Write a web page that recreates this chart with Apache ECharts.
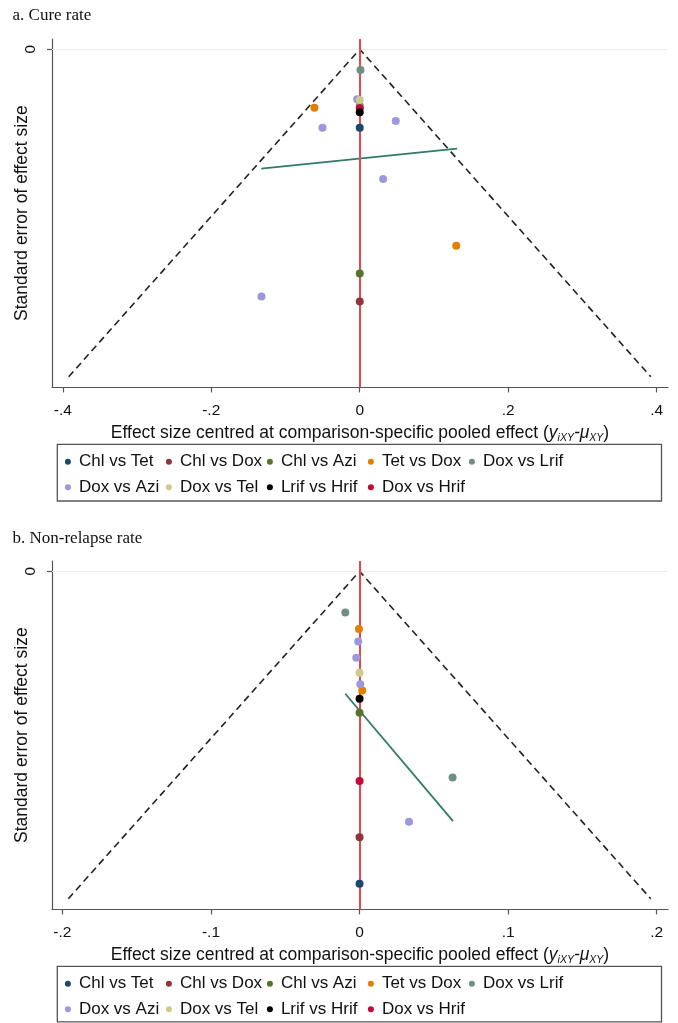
<!DOCTYPE html>
<html>
<head>
<meta charset="utf-8">
<script src="https://cdn.jsdelivr.net/npm/echarts@6/dist/echarts.min.js"></script>
<style>
  html, body { margin: 0; padding: 0; background: #fff; }
  #chart { width: 678px; height: 1023px; }
</style>
</head>
<body>
<div id="chart"></div>
<script>
// Comparisons shown in both panels, in legend order
const comparisons = ['Chl vs Tet', 'Chl vs Dox', 'Chl vs Azi', 'Tet vs Dox', 'Dox vs Lrif',
                     'Dox vs Azi', 'Dox vs Tel', 'Lrif vs Hrif', 'Dox vs Hrif'];
const comparisonColors = ['#1a476f', '#90353b', '#55752f', '#e37e00', '#6f8f82',
                          '#9d97dc', '#d0c98c', '#000000', '#c8063a'];

// a. Cure rate — [centred effect size, standard error]
const cureChlTet  = [[0, 0.0479]];
const cureChlDox  = [[0, 0.154]];
const cureChlAzi  = [[0, 0.137]];
const cureTetDox  = [[-0.061, 0.0357], [0.130, 0.120]];
const cureDoxLrif = [[0.001, 0.0126], [0, 0.0345]];
const cureDoxAzi  = [[-0.0035, 0.0305], [-0.0502, 0.0479], [0.0485, 0.0438], [0.0315, 0.0792], [-0.1323, 0.151]];
const cureDoxTel  = [[0, 0.031]];
const cureLrifHrif = [[0, 0.0385]];
const cureDoxHrif = [[0, 0.036]];
const cureFit = [[-0.1327, 0.0729], [0.1311, 0.0607]];
const cureMaxSE = 0.2;
const cureTicks = [-0.4, -0.2, 0, 0.2, 0.4];

// b. Non-relapse rate — [centred effect size, standard error]
const relChlTet  = [[0, 0.0954]];
const relChlDox  = [[0, 0.0812]];
const relChlAzi  = [[0, 0.0432]];
const relTetDox  = [[-0.0004, 0.0176], [0.0018, 0.0364]];
const relDoxLrif = [[-0.0096, 0.0126], [0.0626, 0.063]];
const relDoxAzi  = [[-0.0009, 0.0214], [-0.0022, 0.0264], [0.0005, 0.0345], [0.0333, 0.0765]];
const relDoxTel  = [[0, 0.031]];
const relLrifHrif = [[0, 0.0389]];
const relDoxHrif = [[0, 0.064]];
const relFit = [[-0.0096, 0.0374], [0.0629, 0.0763]];
const relMaxSE = 0.1;
const relTicks = [-0.2, -0.1, 0, 0.1, 0.2];

const seTicks = [0];

const curePoints = [cureChlTet, cureChlDox, cureChlAzi, cureTetDox, cureDoxLrif, cureDoxAzi, cureDoxTel, cureLrifHrif, cureDoxHrif];
const relPoints  = [relChlTet, relChlDox, relChlAzi, relTetDox, relDoxLrif, relDoxAzi, relDoxTel, relLrifHrif, relDoxHrif];

const SANS = '"Liberation Sans", Arial, Helvetica, sans-serif';
const SERIF = '"Liberation Serif", "Times New Roman", serif';
const AXIS_COLOR = '#555';

// Stata-style number labels: -.4, -.2, 0, .2, .4
function stataNum(v) {
  if (Math.abs(v) < 1e-12) return '0';
  const s = String(Math.abs(v)).replace(/^0/, '');
  return (v < 0 ? '-' : '') + s;
}

const xName = 'Effect size centred at comparison-specific pooled effect ({it|y}{sub|iXY}{it|-μ}{sub|XY})';
const xNameStyle = {
  fontFamily: SANS, fontSize: 17.5, color: '#111', lineHeight: 21,
  rich: {
    it: { fontFamily: SANS, fontSize: 17.5, fontStyle: 'italic', color: '#111', lineHeight: 21 },
    sub: { fontFamily: SANS, fontSize: 10.5, fontStyle: 'italic', color: '#111', lineHeight: 10, verticalAlign: 'bottom' }
  }
};

function xAxisFor(gridIndex, range, ticks) {
  return {
    gridIndex, type: 'value', min: -range[0], max: range[1],
    axisLine: { show: true, onZero: false, lineStyle: { color: AXIS_COLOR, width: 1.2 } },
    axisTick: { show: true, customValues: ticks, length: 5, lineStyle: { color: AXIS_COLOR, width: 1.2 } },
    axisLabel: { customValues: ticks, formatter: stataNum, margin: 15, fontFamily: SANS, fontSize: 15.5, color: '#111' },
    splitLine: { show: false },
    name: xName, nameLocation: 'middle', nameGap: 35, nameMoveOverlap: false, nameTextStyle: xNameStyle
  };
}

function yAxisFor(gridIndex, min, max) {
  return {
    gridIndex, type: 'value', inverse: true, min, max,
    axisLine: { show: true, onZero: false, lineStyle: { color: AXIS_COLOR, width: 1.2 } },
    axisTick: { show: true, customValues: seTicks, length: 5, lineStyle: { color: AXIS_COLOR, width: 1.2 } },
    axisLabel: { customValues: seTicks, formatter: stataNum, rotate: 90, margin: 13, fontFamily: SANS, fontSize: 15.5, color: '#111' },
    splitLine: { show: false },
    name: 'Standard error of effect size', nameLocation: 'middle', nameGap: 21, nameMoveOverlap: false,
    nameTextStyle: { fontFamily: SANS, fontSize: 17.5, color: '#111' }
  };
}

function panelSeries(idx, points, fit, maxSE) {
  const out = [];
  // pseudo 95% confidence limits of the funnel, with the zero grid line and the null-effect line
  out.push({
    type: 'line', xAxisIndex: idx, yAxisIndex: idx, silent: true, z: 3,
    data: [[-1.96 * maxSE, maxSE], [0, 0], [1.96 * maxSE, maxSE]],
    symbol: 'none', lineStyle: { color: '#222', width: 1.6, type: [7, 4.5] },
    markLine: {
      silent: true, symbol: 'none', label: { show: false }, animation: false,
      data: [
        { yAxis: 0, lineStyle: { color: '#ececec', width: 1, type: 'solid' } },
        { xAxis: 0, lineStyle: { color: '#e4474d', width: 2, type: 'solid' } }
      ]
    }
  });
  // fitted line
  out.push({
    type: 'line', xAxisIndex: idx, yAxisIndex: idx, silent: true, z: 4,
    data: fit, symbol: 'none', lineStyle: { color: '#2f7b69', width: 1.8 }
  });
  comparisons.forEach((name, i) => {
    out.push({
      name, type: 'scatter', xAxisIndex: idx, yAxisIndex: idx,
      data: points[i], symbol: 'circle', symbolSize: 8,
      z: name === 'Lrif vs Hrif' ? 7 : 5,
      itemStyle: { color: comparisonColors[i], opacity: 1 }
    });
  });
  return out;
}

function legendFor(top) {
  return {
    data: comparisons, left: 64.9, top, width: 520, orient: 'horizontal',
    itemWidth: 6, itemHeight: 6, itemGap: 2, icon: 'circle', padding: 0,
    selectedMode: false,
    textStyle: { fontFamily: SANS, fontSize: 17, color: '#111', width: 85, lineHeight: 23.6, padding: [0, 0, 0, 3] }
  };
}

const titleStyle = { fontFamily: SERIF, fontSize: 17, fontWeight: 'normal', color: '#111' };

const option = {
  backgroundColor: '#fff',
  animation: false,
  color: comparisonColors,
  title: [
    { text: 'a. Cure rate', left: 12.5, top: 7, padding: 0, textStyle: titleStyle },
    { text: 'b. Non-relapse rate', left: 12.5, top: 530, padding: 0, textStyle: titleStyle }
  ],
  grid: [
    { left: 52, right: 10, top: 39, height: 348.4, outerBoundsMode: 'none', containLabel: false },
    { left: 52, right: 10, top: 561, height: 348.4, outerBoundsMode: 'none', containLabel: false }
  ],
  xAxis: [xAxisFor(0, [0.4145, 0.4152], cureTicks), xAxisFor(1, [0.207, 0.2076], relTicks)],
  yAxis: [yAxisFor(0, -0.0063, 0.2065), yAxisFor(1, -0.00315, 0.10325)],
  legend: [legendFor(449.9), legendFor(971.9)],
  graphic: [
    { type: 'rect', silent: true, shape: { x: 57.3, y: 444.3, width: 604.2, height: 56.7 },
      style: { fill: 'none', stroke: '#555', lineWidth: 1.3 } },
    { type: 'rect', silent: true, shape: { x: 57.3, y: 966.3, width: 604.2, height: 55.5 },
      style: { fill: 'none', stroke: '#555', lineWidth: 1.3 } }
  ],
  series: [
    ...panelSeries(0, curePoints, cureFit, cureMaxSE),
    ...panelSeries(1, relPoints, relFit, relMaxSE)
  ]
};

const chart = echarts.init(document.getElementById('chart'), null, { renderer: 'canvas' });
chart.setOption(option);
</script>
</body>
</html>
